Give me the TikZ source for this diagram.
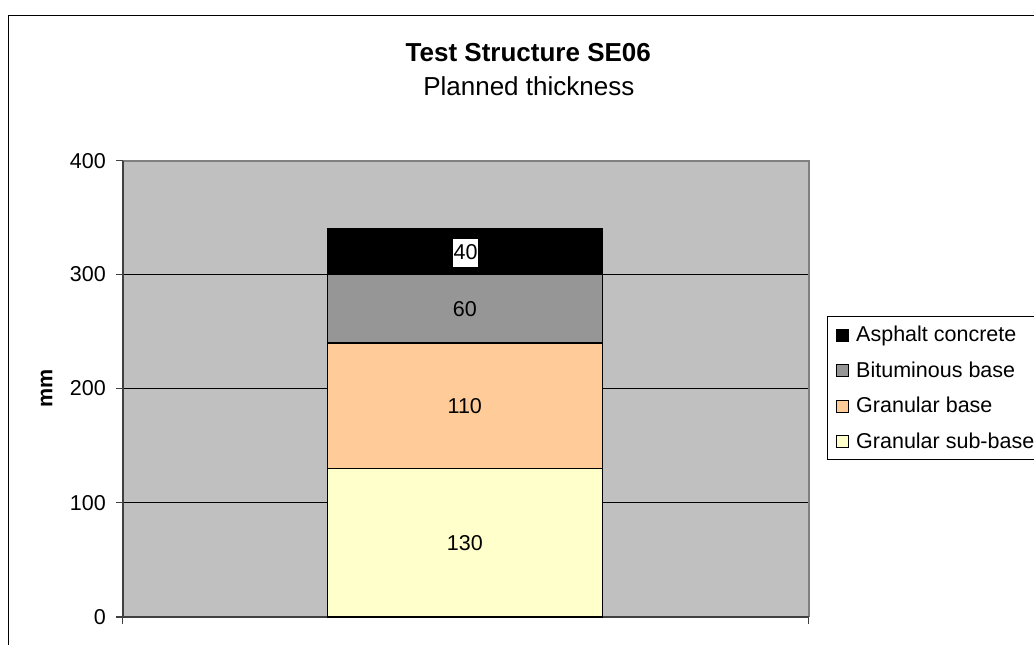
\documentclass[tikz,border=0pt]{standalone}
\usepackage{fontspec}
\setmainfont{Liberation Sans}
\definecolor{plotgrey}{HTML}{C0C0C0}
\definecolor{bitgrey}{HTML}{969696}
\definecolor{granbase}{HTML}{FFCC99}
\definecolor{subbase}{HTML}{FFFFCC}
\definecolor{borderg}{HTML}{808080}
\definecolor{axisc}{HTML}{404040}
\begin{document}
\begin{tikzpicture}[x=1pt,y=-1pt,
  txt/.style={font=\fontsize{21.5}{25}\selectfont, inner sep=0pt, text=black},
  ticklbl/.style={txt, anchor=east},
  seg/.style={draw=black, line width=1.4pt},
  grid line/.style={draw=black, line width=1pt},
  axis line/.style={draw=axisc, line width=1.6pt},
  key/.style={draw=black, line width=0.8pt, minimum width=12pt, minimum height=12pt, inner sep=0pt, anchor=south west},
  keytxt/.style={txt, anchor=base west}]
% page
\path[clip] (0,0) rectangle (1034,645);
\fill[white] (0,0) rectangle (1034,645);
% chart frame (runs past the right and bottom edges)
\draw[line width=1pt] (8,15) rectangle (1070,700);

% titles
\node[txt, font=\fontsize{26}{30}\selectfont\bfseries, anchor=base] (title) at (528.3,61.7) {Test Structure SE06};
\node[txt, font=\fontsize{26}{30}\selectfont, anchor=base] (subtitle) at (528.8,95) {Planned thickness};

% plot area
\coordinate (pa-tl) at (122.7,160.7);
\coordinate (pa-br) at (808.7,617);
\fill[plotgrey] (pa-tl) rectangle (pa-br);
\foreach \yy in {274.5,388.5,502.75}
  \draw[grid line] (122.7,\yy) -- (808.7,\yy);
\draw[borderg, line width=1.8pt] (122.7,160.7) -- (808.7,160.7) -- (808.7,617);
\draw[axis line] (122.7,160.7) -- (122.7,617) -- (808.7,617);

% y ticks and labels
\foreach \yy/\v in {160.7/400,274.5/300,388.5/200,502.75/100,617/0}{
  \draw[axis line, line width=1.2pt] (116,\yy) -- (122.7,\yy);
  \node[ticklbl] (tick\v) at (106,\yy) {\v};
}
% x ticks
\draw[axis line, line width=1.2pt] (122.7,617) -- (122.7,623.5);
\draw[axis line, line width=1.2pt] (808.7,617) -- (808.7,623.5);

% axis title
\node[txt, font=\fontsize{21.5}{25}\selectfont\bfseries, rotate=90] (ylabel) at (46.5,388.5) {mm};

% stacked bar
\draw[seg, fill=subbase]  (327.3,617)   rectangle (602.3,468.5);
\draw[seg, fill=granbase] (327.3,468.5) rectangle (602.3,342.8);
\draw[seg, fill=bitgrey]  (327.3,342.8) rectangle (602.3,274.5);
\draw[seg, fill=black]    (327.3,274.5) rectangle (602.3,228.6);

% segment values
\node[txt] (v130) at (464.8,542.8) {130};
\node[txt] (v110) at (464.8,405.6) {110};
\node[txt] (v60)  at (464.8,308.6) {60};
\node[txt, fill=white, minimum width=25pt, minimum height=28pt] (v40) at (465.7,252.5) {40};

% legend
\draw[line width=1pt] (827,316) rectangle (1070,459);
\node[key, fill=black]    (k1) at (836,341.7) {};
\node[keytxt] (l1) at (856,341.7) {Asphalt concrete};
\node[key, fill=bitgrey]  (k2) at (836,377.2) {};
\node[keytxt] (l2) at (856,377.2) {Bituminous base};
\node[key, fill=granbase] (k3) at (836,412.7) {};
\node[keytxt] (l3) at (856,412.7) {Granular base};
\node[key, fill=subbase]  (k4) at (836,448.2) {};
\node[keytxt] (l4) at (856,448.2) {Granular sub-base};
\end{tikzpicture}
\end{document}
